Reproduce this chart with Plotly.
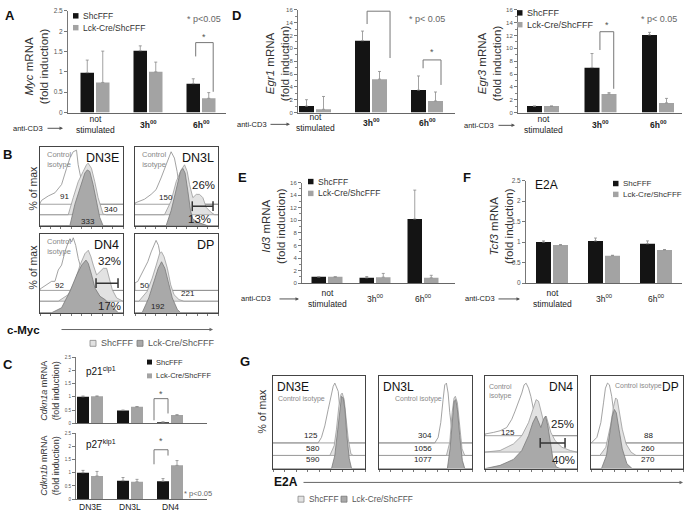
import plotly.graph_objects as go

W, H = 684, 516
FONT = "Liberation Sans, Arial, Helvetica, sans-serif"
BLACK = "#141414"
GREY = "#a3a3a3"
ERRC = "#8a8a8a"

# ---------------- bar chart data ----------------
stim_labels = ["not<br>stimulated", "3h<sup>00</sup>", "6h<sup>00</sup>"]
subset_labels = ["DN3E", "DN3L", "DN4"]
legend_names = ["ShcFFF", "Lck-Cre/ShcFFF"]

myc_shc = [0.98, 1.52, 0.71]
myc_shc_err = [0.31, 0.12, 0.12]
myc_lck = [0.74, 1.00, 0.35]
myc_lck_err = [0.77, 0.24, 0.14]

egr1_shc = [1.0, 11.2, 3.5]
egr1_shc_err = [1.0, 1.5, 2.2]
egr1_lck = [0.5, 5.2, 1.8]
egr1_lck_err = [2.0, 1.2, 1.4]

egr3_shc = [1.0, 7.0, 12.1]
egr3_shc_err = [0.0, 2.2, 0.4]
egr3_lck = [1.0, 2.9, 1.5]
egr3_lck_err = [0.0, 0.2, 0.7]

id3_shc = [1.0, 0.85, 10.2]
id3_shc_err = [0.0, 0.2, 4.6]
id3_lck = [1.0, 0.95, 0.85]
id3_lck_err = [0.0, 0.6, 0.4]

tcf3_shc = [1.0, 1.03, 0.96]
tcf3_shc_err = [0.03, 0.07, 0.07]
tcf3_lck = [0.93, 0.67, 0.81]
tcf3_lck_err = [0.01, 0.01, 0.01]

cdkn1a_shc = [1.0, 0.48, 0.04]
cdkn1a_shc_err = [0.03, 0.02, 0.01]
cdkn1a_lck = [1.02, 0.62, 0.31]
cdkn1a_lck_err = [0.01, 0.01, 0.01]

cdkn1b_shc = [1.0, 0.70, 0.68]
cdkn1b_shc_err = [0.09, 0.12, 0.10]
cdkn1b_lck = [0.88, 0.66, 1.28]
cdkn1b_lck_err = [0.17, 0.09, 0.18]

# significance brackets: (x left, x right, y top, y left end, y right end, y star)
myc_sig = [(1.90, 2.23, 1.72, 1.38, 0.51, 1.87)]
egr1_sig = [(0.93, 1.34, 15.8, 13.8, 8.5, 16.3), (1.93, 2.25, 8.2, 6.9, 4.3, 9.4)]
egr3_sig = [(0.99, 1.23, 12.6, 9.75, 3.7, 13.7)]
cdkn1a_sig = [(1.60, 1.95, 0.93, 0.11, 0.37, 1.12)]
cdkn1b_sig = [(1.60, 1.95, 1.87, 1.32, 1.65, 2.2)]

# ---------------- flow histogram data (x, y in % of plot box; offset overlay) ----------------
# c-Myc (panel B)
myc_dn3e_ctrl = [(0, 29), (2, 32.5), (10, 38), (18, 42), (26, 52.5), (32, 73), (36, 86), (40, 94), (44, 96),
                 (46, 77.5), (50, 56), (54, 36), (58, 27.5)]
myc_dn3e_shc = [(34, 14.2), (40, 35.8), (46, 56), (52, 69), (56, 77.5), (58, 79.6), (62, 73), (66, 56),
                (70, 35.8), (76, 15), (80, 14.2)]
myc_dn3e_lck = [(36, 0.4), (42, 27.5), (48, 48), (54, 67), (57, 71), (60, 69), (64, 52.5), (68, 31.7),
                (72, 10.8), (76, 0.4)]
myc_dn3l_ctrl = [(0, 29), (1.2, 29.6), (11.3, 33.8), (19.4, 40), (25.4, 46), (31.4, 60.8), (37.5, 77.5),
                 (41.5, 90), (43.5, 94), (47.5, 86), (50.7, 69), (53.7, 48), (56.5, 31.7), (59.7, 27.5)]
myc_dn3l_shc = [(35.5, 14.2), (43.5, 31.7), (49.6, 56), (55.6, 71), (59.7, 77.5), (62.9, 69), (65.7, 52.5),
                (69.7, 35.8), (73.8, 40), (77.8, 40), (81.8, 35.8), (85.9, 23.3), (91.9, 17), (96, 14.2)]
myc_dn3l_lck = [(37.5, 0.4), (43.5, 19.2), (49.6, 48), (54.8, 69), (57.6, 73), (60.4, 67), (63.7, 44),
                (66.9, 19.2), (69.7, 8.8), (75.8, 4.6), (83.8, 1.7), (87.9, 0)]
myc_dn4_ctrl = [(0, 30), (2, 31.4), (8, 35.6), (14, 39.8), (18, 39.8), (22, 54.2), (26, 60.4), (30, 77.1),
                (34.1, 89.6), (36.1, 93.8), (38.1, 89.6), (40.1, 95), (43, 85.4), (46.1, 68.8), (49.4, 56.3),
                (52.2, 47.9), (56.2, 33.3), (60.2, 28.3)]
myc_dn4_shc = [(22, 14.6), (34.1, 23), (42.1, 39.8), (48.2, 60.4), (54.2, 75), (58.2, 79.2), (61.4, 70.8),
               (64.2, 60.4), (68.2, 47.9), (72.3, 52.1), (76.3, 56.3), (80.3, 56.3), (83.1, 43.8),
               (87.1, 29.2), (92.3, 18.8), (98.4, 14.6)]
myc_dn4_lck = [(14, 0), (26, 6.3), (36.1, 27.1), (44.2, 47.9), (50.2, 60.4), (55.4, 66.7), (58.2, 62.5),
               (62.2, 47.9), (66.2, 31.3), (72.3, 20.8), (78.3, 16.7), (86.3, 8.3), (94.4, 0)]
myc_dp_ctrl = [(0, 38), (3.3, 39.6), (9.4, 52.1), (15.4, 64.6), (19.5, 77.1), (22.6, 85.4), (25.4, 91.7),
               (28.2, 85.4), (30.7, 72.9), (33.5, 56.3), (36.3, 39.6), (39.5, 28.3)]
myc_dp_shc = [(4.6, 14.6), (14.6, 27.1), (20.7, 43.8), (25.6, 60.4), (29.6, 75), (32, 77.1), (35, 71),
              (39, 56.3), (43, 35.4), (47, 22.9), (53, 16.7), (59, 14.6)]
myc_dp_lck = [(8.6, 0), (16.6, 18.8), (22.6, 39.6), (27.9, 56.3), (32, 64.6), (36, 56.3), (40, 39.6),
              (44.9, 18.8), (51, 4.2), (55, 0)]
myc_bases = [27.5, 14.2, 0]
myc_bases_low = [28.3, 14.6, 0]

# E2A (panel G)
e2a_dn3e_ctrl = [(49.1, 27.7), (52.7, 33.7), (56.3, 46.1), (60, 63.8), (63.6, 81.5), (65.4, 88.6),
                 (67.2, 92.2), (69, 88.6), (70.9, 83.3), (72.7, 63.8), (74.5, 39), (76.3, 28.4), (78.2, 27.7)]
e2a_dn3e_shc = [(61.8, 14.2), (66.5, 24.8), (69, 42.5), (71.6, 67.3), (73.8, 79.7), (75.2, 81.5),
                (77.4, 74.4), (79.2, 56.7), (81.8, 31.9), (84.7, 15.9), (87.2, 14.2)]
e2a_dn3e_lck = [(63.6, 0), (67.2, 14.2), (70.1, 42.5), (72.7, 67.3), (74.5, 77.9), (76.3, 76.1),
                (78.2, 63.8), (80.3, 35.4), (82.9, 10.6), (85.4, 0)]
e2a_dn3l_ctrl = [(60, 27.7), (63.6, 33.7), (66.4, 49.6), (68.9, 74.4), (70.7, 90.3), (72.5, 92.2),
                 (74.3, 81.5), (76.1, 60.3), (78.6, 39), (81.4, 30.1), (84.3, 27.7)]
e2a_dn3l_shc = [(72.5, 14.2), (76.1, 28.4), (78.6, 60.3), (80.7, 76.2), (82.1, 78), (84.3, 70.9),
                (86.8, 46.1), (89.3, 21.3), (92.2, 14.2)]
e2a_dn3l_lck = [(73.5, 0), (76.4, 21.3), (78.9, 56.7), (80.7, 72.6), (82.5, 74.4), (84.3, 63.8),
                (86.8, 35.4), (89.6, 8.9), (92.2, 0)]
e2a_dn4_ctrl = [(0, 37.3), (9.1, 39), (16.4, 40.8), (23.6, 44.3), (29.1, 53.2), (32.7, 62), (36.4, 70.9),
                (40, 81.5), (42.5, 90.3), (44.7, 92.1), (47.3, 86.8), (49.8, 78), (52.7, 63.8),
                (55.6, 49.6), (59.2, 39), (63.6, 35.5)]
e2a_dn4_shc = [(0, 17.8), (16.4, 19.5), (30.9, 26.6), (40, 35.5), (47.3, 49.6), (52, 63.8), (55.6, 74.4),
               (58.2, 72.7), (60.7, 63.8), (63.6, 51.4), (66.5, 56.7), (69, 47.9), (71.6, 39),
               (76.3, 30.1), (83.6, 23), (92.7, 19.5), (100, 17.8)]
e2a_dn4_lck = [(0, 0), (16.4, 3.5), (30.9, 9.9), (40, 19.5), (47.3, 35.5), (52, 49.6), (55.6, 56.7),
               (58.2, 49.6), (60.7, 44.3), (63.6, 53.2), (65.8, 56.7), (68.3, 46.1), (70.9, 28.4),
               (73.8, 10.6), (77.4, 1.8), (81.8, 0)]
e2a_dp_ctrl = [(0.4, 27.7), (6.4, 33.7), (10.7, 49.6), (13.6, 70.9), (15.7, 86.8), (17.9, 92.2),
               (20, 90.4), (22.5, 78), (25, 56.7), (27.9, 37.2), (31.5, 29.1), (35, 27.7)]
e2a_dp_shc = [(9.6, 14.2), (16.1, 23), (21.1, 46.1), (24.6, 67.3), (26.8, 76.2), (28.6, 74.4),
              (31.1, 60.3), (34, 42.5), (38.2, 26.6), (43.6, 17.7), (49, 14.2)]
e2a_dp_lck = [(11.4, 0), (16.8, 14.2), (20.4, 39), (23.2, 56.7), (25.4, 63.8), (27.5, 60.3), (30.4, 42.5),
              (34, 21.3), (39, 5.3), (44.7, 0)]
e2a_bases = [27.7, 14.2, 0]
e2a_bases_dn4 = [35.5, 17.8, 0]

# gates (x start, x end, y)
myc_dn3l_gate = (69, 94, 25)
myc_dn4_gate = (67.5, 94, 37.5)
e2a_dn4_gate = (60, 87, 27.7)

# ---------------- helpers ----------------
fig = go.Figure()
annotations = []
shapes = []
layout = dict(width=W, height=H, margin=dict(l=0, r=0, t=0, b=0), paper_bgcolor="white",
              plot_bgcolor="rgba(0,0,0,0)", showlegend=False, font=dict(family=FONT, color="#222"))


def fx(p):
    return p / W


def fy(p):
    return 1 - p / H


def refs(n):
    return ("x" if n == 1 else f"x{n}"), ("y" if n == 1 else f"y{n}")


def add_axes(n, x0, x1, y0, y1, xr, yr, xopts, yopts):
    xa = dict(domain=[fx(x0), fx(x1)], anchor=refs(n)[1], range=xr, showgrid=False, zeroline=False)
    ya = dict(domain=[fy(y1), fy(y0)], anchor=refs(n)[0], range=yr, showgrid=False, zeroline=False)
    xa.update(xopts)
    ya.update(yopts)
    layout["xaxis" + ("" if n == 1 else str(n))] = xa
    layout["yaxis" + ("" if n == 1 else str(n))] = ya


def ann(text, x, y, size=10, color="#222", xanchor="center", yanchor="middle", n=None, angle=0):
    d = dict(text=text, showarrow=False, font=dict(size=size, color=color, family=FONT),
             xanchor=xanchor, yanchor=yanchor, textangle=angle)
    if n is None:
        d.update(x=fx(x), y=fy(y), xref="paper", yref="paper")
    else:
        xr_, yr_ = refs(n)
        d.update(x=x, y=y, xref=xr_, yref=yr_)
    annotations.append(d)


def arrow(x_tail, x_head, y, color="#555", width=1, head=2, size=0.8):
    annotations.append(dict(text="", x=fx(x_head), y=fy(y), ax=x_tail - x_head, ay=0, xref="paper",
                            yref="paper", axref="pixel", ayref="pixel", showarrow=True, arrowhead=head,
                            arrowsize=size, arrowwidth=width, arrowcolor=color, standoff=0, startstandoff=0))


def square(x, y, s, fill, line=None):
    shapes.append(dict(type="rect", xref="paper", yref="paper", x0=fx(x), x1=fx(x + s), y0=fy(y + s / 2),
                       y1=fy(y - s / 2), fillcolor=fill, line=dict(width=0.8 if line else 0, color=line or fill)))


def bar_panel(n, shc, shc_err, lck, lck_err, x0, x1, ytop, ybot, ymax, dtick, minor, c0, sp, bar_px,
              tsize=7, sig=(), labels=None, label_y=0, bold=False, lsize=8.5):
    xr = [(x0 - c0) / sp, (x1 - c0) / sp]
    w = bar_px / sp
    g = 2.0 / sp
    yopts = dict(showline=True, linecolor="#777", linewidth=1, ticks="outside", ticklen=3, tickcolor="#777",
                 dtick=dtick, tick0=0, tickfont=dict(size=tsize, color="#555", family=FONT))
    if minor:
        yopts["minor"] = dict(dtick=minor, ticks="outside", ticklen=2, tickcolor="#888")
    add_axes(n, x0, x1, ytop, ybot, xr, [0, ymax],
             dict(showline=True, linecolor="#666", linewidth=1, ticks="", showticklabels=False), yopts)
    xa, ya = refs(n)
    for vals, errs, col, off in ((shc, shc_err, BLACK, -w - g / 2), (lck, lck_err, GREY, g / 2)):
        fig.add_bar(x=[0, 1, 2], y=vals, width=w, offset=off, xaxis=xa, yaxis=ya, hoverinfo="skip",
                    marker=dict(color=col, line=dict(width=0)),
                    error_y=dict(type="data", array=errs, arrayminus=[0] * 3, symmetric=False, color=ERRC,
                                 thickness=0.8, width=1.5))
    for (xl, xrr, yt, yl, yr2, ys) in sig:
        shapes.append(dict(type="path", xref=xa, yref=ya,
                           path=f"M {xl},{yl} L {xl},{yt} L {xrr},{yt} L {xrr},{yr2}",
                           line=dict(color="#777", width=1)))
        ann("*", (xl + xrr) / 2, ys, size=9, color="#555", n=n)
    if labels:
        for i, lab in enumerate(labels):
            t = f"<b>{lab}</b>" if (bold and i > 0) else lab
            annotations.append(dict(text=t, x=i, y=fy(label_y), xref=xa, yref="paper", showarrow=False,
                                    font=dict(size=lsize, color="#222", family=FONT), xanchor="center",
                                    yanchor="middle"))


def hist_box(n, x0, x1, y0, y1, curves, bases, ticks=True):
    add_axes(n, x0, x1, y0, y1, [0, 100], [0, 100],
             dict(showline=True, mirror=True, linecolor="#444", linewidth=1,
                  ticks="outside" if ticks else "", ticklen=2, tickcolor="#777", dtick=12.5, tick0=0,
                  showticklabels=False),
             dict(showline=True, mirror=True, linecolor="#444", linewidth=1, ticks="", showticklabels=False))
    xa, ya = refs(n)
    styles = [("white", "#8c8c8c"), ("#e2e2e2", "#9a9a9a"), ("#a9a9a9", "#7a7a7a")]
    for pts, base, (fill, line) in zip(curves, bases, styles):
        xs = [0] + [p[0] for p in pts]
        ys = [base] + [p[1] for p in pts]
        if xs[-1] < 100:
            xs.append(100)
            ys.append(base)
        xs.append(0)
        ys.append(base)
        fig.add_scatter(x=xs, y=ys, mode="lines", fill="toself", fillcolor=fill,
                        line=dict(color=line, width=0.8), xaxis=xa, yaxis=ya, hoverinfo="skip")


def gate(n, g):
    xa, ya = refs(n)
    fig.add_scatter(x=[g[0], g[1]], y=[g[2], g[2]], mode="lines+markers", xaxis=xa, yaxis=ya,
                    line=dict(color="#333", width=1.5), hoverinfo="skip",
                    marker=dict(symbol="line-ns", size=7, line=dict(width=1.5, color="#333")))


def bar_legend(x, y1, y2, size=8.5, s=5.5):
    square(x, y1, s, BLACK)
    square(x, y2, s, GREY)
    ann(legend_names[0], x + s + 2, y1, size=size, color="#333", xanchor="left")
    ann(legend_names[1], x + s + 2, y2, size=size, color="#333", xanchor="left")


def anti_cd3(xc, y, a0, a1):
    ann("anti-CD3", xc, y, size=7.5, color="#222")
    arrow(a0, a1, y, color="#555", width=1, head=2, size=0.7)


# ---------------- panel A ----------------
bar_panel(1, myc_shc, myc_shc_err, myc_lck, myc_lck_err, 68, 226, 7, 110, 2.5, 0.5, None, 95, 53, 13.5,
          tsize=6.5, sig=myc_sig, labels=stim_labels, label_y=122, bold=True, lsize=8.5)
bar_legend(73, 12, 24, size=8.5)
ann("* p<0.05", 223, 15, size=9, color="#666", xanchor="right")
ann("<i>Myc</i> mRNA<br>(fold induction)", 36, 63, size=11.5, color="#333", angle=-90)
anti_cd3(28, 126, 46, 63)
ann("<b>A</b>", 3, 2, size=13, color="#111", xanchor="left", yanchor="top")

# ---------------- panel D ----------------
bar_panel(2, egr1_shc, egr1_shc_err, egr1_lck, egr1_lck_err, 298, 455, 6, 110, 16, 2, 1, 315, 56, 15,
          tsize=6, sig=egr1_sig, labels=stim_labels, label_y=120, bold=True, lsize=8.5)
ann("* p< 0.05", 447, 15, size=9, color="#666", xanchor="right")
ann("<i>Egr1</i> mRNA<br>(fold induction)", 277, 60, size=11.5, color="#333", angle=-90)
anti_cd3(252, 122, 269, 290)
ann("<b>D</b>", 230, 2, size=13, color="#111", xanchor="left", yanchor="top")

bar_panel(3, egr3_shc, egr3_shc_err, egr3_lck, egr3_lck_err, 518, 682, 6, 110, 16, 2, 1, 543, 57.5, 15,
          tsize=6, sig=egr3_sig, labels=stim_labels, label_y=122, bold=True, lsize=8.5)
bar_legend(517, 9, 21, size=9)
ann("* p< 0.05", 679, 15, size=9, color="#666", xanchor="right")
ann("<i>Egr3</i> mRNA<br>(fold induction)", 489, 60, size=11.5, color="#333", angle=-90)
anti_cd3(479, 123, 497, 515)

# ---------------- panel E ----------------
bar_panel(4, id3_shc, id3_shc_err, id3_lck, id3_lck_err, 302, 455, 181, 283, 16, 2, 1, 327, 48, 14.5,
          tsize=6, labels=stim_labels, label_y=299, lsize=8.5)
bar_legend(308, 180, 192, size=8.5)
ann("<i>Id3</i> mRNA<br>(fold induction)", 274, 225, size=11.5, color="#333", angle=-90)
anti_cd3(256, 299, 278, 299)
ann("<b>E</b>", 236, 166, size=13, color="#111", xanchor="left", yanchor="top")

# ---------------- panel F ----------------
bar_panel(5, tcf3_shc, tcf3_shc_err, tcf3_lck, tcf3_lck_err, 526, 682, 179, 283, 2.5, 0.5, None, 552, 52,
          15, tsize=6.5, labels=stim_labels, label_y=299, lsize=8.5)
bar_legend(613, 182, 193, size=8)
ann("E2A", 546, 183, size=12, color="#111")
ann("<i>Tcf3</i> mRNA<br>(fold induction)", 502, 225, size=11.5, color="#333", angle=-90)
anti_cd3(480, 299, 497, 520)
ann("<b>F</b>", 461, 166, size=13, color="#111", xanchor="left", yanchor="top")

# ---------------- panel C ----------------
bar_panel(6, cdkn1a_shc, cdkn1a_shc_err, cdkn1a_lck, cdkn1a_lck_err, 76, 207, 358, 425, 2.5, 0.5, None, 90,
          40, 12, tsize=4.5, sig=cdkn1a_sig)
bar_panel(7, cdkn1b_shc, cdkn1b_shc_err, cdkn1b_lck, cdkn1b_lck_err, 76, 207, 435, 502, 2.5, 0.5, None, 90,
          40, 12, tsize=4.5, sig=cdkn1b_sig, labels=subset_labels, label_y=510, lsize=8.5)
bar_legend(147, 363, 377, size=7.5, s=5)
ann("p21<sup>cip1</sup>", 84, 372, size=10, color="#111", xanchor="left")
ann("p27<sup>kip1</sup>", 84, 446, size=10, color="#111", xanchor="left")
ann("<i>Cdkn1a</i> mRNA<br>(fold induction)", 50, 392, size=9, color="#333", angle=-90)
ann("<i>Cdkn1b</i> mRNA<br>(fold induction)", 50, 468, size=9, color="#333", angle=-90)
ann("* p<0.05", 214, 496, size=7.5, color="#666", xanchor="right")
ann("<b>C</b>", 1, 356, size=13, color="#111", xanchor="left", yanchor="top")

# ---------------- panel B (c-Myc histograms) ----------------
hist_box(8, 40, 123, 145, 225, [myc_dn3e_ctrl, myc_dn3e_shc, myc_dn3e_lck], myc_bases)
hist_box(9, 135, 218, 145, 225, [myc_dn3l_ctrl, myc_dn3l_shc, myc_dn3l_lck], myc_bases)
hist_box(10, 40, 123, 233, 313, [myc_dn4_ctrl, myc_dn4_shc, myc_dn4_lck], myc_bases_low)
hist_box(11, 135, 218, 233, 313, [myc_dp_ctrl, myc_dp_shc, myc_dp_lck], myc_bases_low)
gate(9, myc_dn3l_gate)
gate(10, myc_dn4_gate)
for n_, t in ((8, "DN3E"), (9, "DN3L"), (10, "DN4"), (11, "DP")):
    ann(t, 97, 97, size=12.5, color="#111", xanchor="right", yanchor="top", n=n_)
for n_ in (8, 9, 10):
    ann("Control<br>isotype", 6, 99, size=7.5, color="#888", xanchor="left", yanchor="top", n=n_)
ann("91", 30, 37, size=8, n=8)
ann("340", 85, 20.5, size=8, n=8)
ann("333", 58, 6, size=8, n=8)
ann("150", 37, 36, size=8, n=9)
ann("26%", 82, 52, size=11.5, n=9)
ann("13%", 78, 9, size=11.5, n=9)
ann("92", 24, 34, size=8, n=10)
ann("32%", 84, 65, size=11.5, n=10)
ann("17%", 84, 9, size=11.5, n=10)
ann("50", 12, 34, size=8, n=11)
ann("221", 64, 25, size=8, n=11)
ann("192", 28, 7.5, size=8, n=11)
ann("% of max", 33, 187, size=10.5, color="#333", angle=-90)
ann("% of max", 33, 267, size=10.5, color="#333", angle=-90)
ann("<b>c-Myc</b>", 5, 330, size=11.5, color="#111", xanchor="left")
arrow(60, 213, 330, color="#666", width=1, head=2, size=0.7)
square(90, 344, 6, "#e2e2e2", "#888")
ann("ShcFFF", 99, 344, size=9, color="#555", xanchor="left")
square(137, 344, 6, "#a9a9a9", "#777")
ann("Lck-Cre/ShcFFF", 146, 344, size=9, color="#555", xanchor="left")
ann("<b>B</b>", 1, 143, size=13, color="#111", xanchor="left", yanchor="top")

# ---------------- panel G (E2A histograms) ----------------
hist_box(12, 273, 365, 377, 471, [e2a_dn3e_ctrl, e2a_dn3e_shc, e2a_dn3e_lck], e2a_bases)
hist_box(13, 379, 472, 377, 471, [e2a_dn3l_ctrl, e2a_dn3l_shc, e2a_dn3l_lck], e2a_bases)
hist_box(14, 485, 577, 377, 471, [e2a_dn4_ctrl, e2a_dn4_shc, e2a_dn4_lck], e2a_bases_dn4)
hist_box(15, 591, 683, 377, 471, [e2a_dp_ctrl, e2a_dp_shc, e2a_dp_lck], e2a_bases)
gate(14, e2a_dn4_gate)
ann("DN3E", 2, 98, size=12, color="#111", xanchor="left", yanchor="top", n=12)
ann("DN3L", 2, 98, size=12, color="#111", xanchor="left", yanchor="top", n=13)
ann("DN4", 98, 98, size=12, color="#111", xanchor="right", yanchor="top", n=14)
ann("DP", 98, 98, size=12, color="#111", xanchor="right", yanchor="top", n=15)
ann("Control isotype", 3, 75, size=7, color="#888", xanchor="left", n=12)
ann("Control isotype", 15, 75, size=7, color="#888", xanchor="left", n=13)
ann("Control<br>isotype", 2, 94, size=7, color="#888", xanchor="left", yanchor="top", n=14)
ann("Control isotype", 24, 89, size=7, color="#888", xanchor="left", n=15)
ann("125", 41, 36, size=8, n=12)
ann("580", 43.5, 22, size=8, n=12)
ann("590", 43.5, 9.6, size=8, n=12)
ann("304", 49.5, 36, size=8, n=13)
ann("1056", 47, 22, size=8, n=13)
ann("1077", 47, 9.6, size=8, n=13)
ann("125", 25, 39.4, size=8, n=14)
ann("25%", 84, 48, size=11.5, n=14)
ann("40%", 85, 9.6, size=11.5, n=14)
ann("88", 62, 36, size=8, n=15)
ann("260", 62, 22, size=8, n=15)
ann("270", 62, 9.6, size=8, n=15)
ann("% of max", 262, 413, size=10.5, color="#333", angle=-90)
ann("<b>E2A</b>", 272, 485, size=12, color="#111", xanchor="left")
arrow(302, 683, 485, color="#666", width=1, head=2, size=0.7)
square(298, 502, 6, "#e2e2e2", "#888")
ann("ShcFFF", 307, 502, size=8.3, color="#555", xanchor="left")
square(341, 502, 6, "#a9a9a9", "#777")
ann("Lck-Cre/ShcFFF", 350, 502, size=8.3, color="#555", xanchor="left")
ann("<b>G</b>", 238, 353, size=13, color="#111", xanchor="left", yanchor="top")

layout["annotations"] = annotations
layout["shapes"] = shapes
fig.update_layout(**layout)
fig.write_html("out.html", config={"displayModeBar": False},
               post_script="document.body.style.margin='0';document.body.style.overflow='hidden';")
